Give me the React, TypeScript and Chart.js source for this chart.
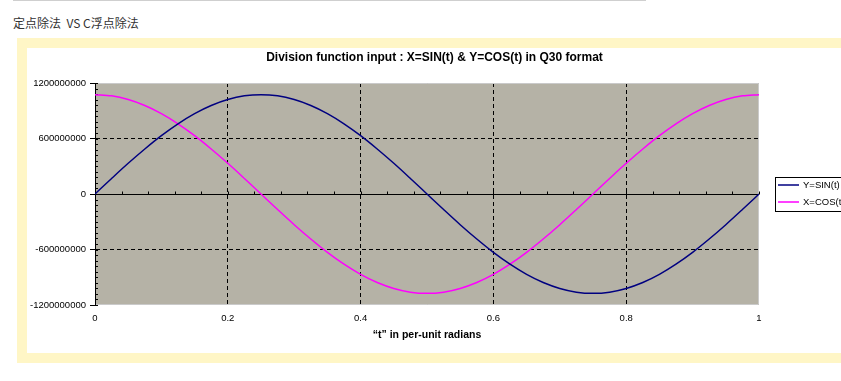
import React, { useEffect, useRef } from "react";
import { Chart, registerables } from "chart.js";

Chart.register(...registerables);

// ---------- data ----------
const pageCaption = "定点除法  VS C浮点除法";
const chartTitle = "Division function input : X=SIN(t) & Y=COS(t) in Q30 format";
const xAxisTitle = "\u201ct\u201d in per-unit radians";
const seriesLabels = ["Y=SIN(t)", "X=COS(t)"];

const tValues = [
  0, 0.025, 0.05, 0.075, 0.1, 0.125, 0.15, 0.175, 0.2, 0.225, 0.25, 0.275, 0.3, 0.325,
  0.35, 0.375, 0.4, 0.425, 0.45, 0.475, 0.5, 0.525, 0.55, 0.575, 0.6, 0.625, 0.65, 0.675,
  0.7, 0.725, 0.75, 0.775, 0.8, 0.825, 0.85, 0.875, 0.9, 0.925, 0.95, 0.975, 1,
];

const sinValues = [
  0, 168000000, 332000000, 487000000, 631000000, 759000000, 869000000, 957000000,
  1021000000, 1061000000, 1074000000, 1061000000, 1021000000, 957000000, 869000000,
  759000000, 631000000, 487000000, 332000000, 168000000, 0, -168000000, -332000000,
  -487000000, -631000000, -759000000, -869000000, -957000000, -1021000000, -1061000000,
  -1074000000, -1061000000, -1021000000, -957000000, -869000000, -759000000, -631000000,
  -487000000, -332000000, -168000000, 0,
];

const cosValues = [
  1074000000, 1061000000, 1021000000, 957000000, 869000000, 759000000, 631000000,
  487000000, 332000000, 168000000, 0, -168000000, -332000000, -487000000, -631000000,
  -759000000, -869000000, -957000000, -1021000000, -1061000000, -1074000000, -1061000000,
  -1021000000, -957000000, -869000000, -759000000, -631000000, -487000000, -332000000,
  -168000000, 0, 168000000, 332000000, 487000000, 631000000, 759000000, 869000000,
  957000000, 1021000000, 1061000000, 1074000000,
];

const xTicks = [0, 0.2, 0.4, 0.6, 0.8, 1];
const yTicks = [-1200000000, -600000000, 0, 600000000, 1200000000];
const xMinorStep = 0.04;
const yMinorStep = 60000000;

// ---------- styles ----------
const FONT = "'Liberation Sans', Arial, sans-serif";
const PLOT_BG = "#b5b2a6";
const SIN_COLOR = "#000080";
const COS_COLOR = "#ff00ff";
const CANVAS_W = 815;
const CANVAS_H = 305;

const decorPlugin = {
  id: "decor",
  beforeDraw(chart: any) {
    const { ctx, chartArea: a } = chart;
    ctx.save();
    ctx.fillStyle = PLOT_BG;
    ctx.fillRect(a.left, a.top, a.right - a.left, a.bottom - a.top);
    // title
    ctx.fillStyle = "#000";
    ctx.font = `bold 12px ${FONT}`;
    ctx.textAlign = "center";
    ctx.textBaseline = "middle";
    ctx.fillText(chartTitle, chart.width / 2, 10);
    ctx.restore();
  },
  beforeDatasetsDraw(chart: any) {
    const { ctx, chartArea: a, scales } = chart;
    const xs = scales.x;
    const ys = scales.y;
    ctx.save();
    // light plot border (top, right, bottom)
    ctx.strokeStyle = "#cacaca";
    ctx.lineWidth = 1;
    ctx.beginPath();
    ctx.moveTo(a.left + 1, a.top + 0.5);
    ctx.lineTo(a.right - 0.5, a.top + 0.5);
    ctx.lineTo(a.right - 0.5, a.bottom - 0.5);
    ctx.lineTo(a.left + 1, a.bottom - 0.5);
    ctx.stroke();
    // zero axis line
    const y0 = Math.round(ys.getPixelForValue(0)) + 0.5;
    ctx.strokeStyle = "#000";
    ctx.beginPath();
    ctx.moveTo(a.left, y0);
    ctx.lineTo(a.right, y0);
    // x minor ticks on zero line
    const xmin = xTicks[0];
    const xmax = xTicks[xTicks.length - 1];
    for (let i = 0; xmin + i * xMinorStep <= xmax + 1e-9; i++) {
      const px = Math.round(xs.getPixelForValue(xmin + i * xMinorStep)) + 0.5;
      ctx.moveTo(px, y0);
      ctx.lineTo(px, y0 - 3);
    }
    // y minor ticks inside left axis
    const ymin = yTicks[0];
    const ymax = yTicks[yTicks.length - 1];
    for (let i = 0; ymin + i * yMinorStep <= ymax + 1; i++) {
      const py = Math.round(ys.getPixelForValue(ymin + i * yMinorStep)) + 0.5;
      ctx.moveTo(a.left, py);
      ctx.lineTo(a.left + 3, py);
    }
    ctx.stroke();
    ctx.restore();
  },
  afterDraw(chart: any) {
    const { ctx } = chart;
    const bx = 748.5;
    const by = 129.5;
    const bw = 90;
    const bh = 34;
    ctx.save();
    ctx.fillStyle = "#fff";
    ctx.fillRect(bx, by, bw, bh);
    ctx.strokeStyle = "#000";
    ctx.lineWidth = 1;
    ctx.strokeRect(bx, by, bw, bh);
    const rows = [137, 154];
    chart.data.datasets.forEach((ds: any, i: number) => {
      const ry = rows[i];
      ctx.strokeStyle = ds.borderColor;
      ctx.lineWidth = 1.5;
      ctx.beginPath();
      ctx.moveTo(751, ry);
      ctx.lineTo(772, ry);
      ctx.stroke();
      ctx.fillStyle = "#000";
      ctx.font = `9.5px ${FONT}`;
      ctx.textAlign = "left";
      ctx.textBaseline = "middle";
      ctx.fillText(ds.label, 776, ry);
    });
    ctx.restore();
  },
};

export default function App() {
  const ref = useRef<HTMLCanvasElement>(null);

  useEffect(() => {
    if (!ref.current) return;
    const chart = new Chart(ref.current, {
      type: "line",
      data: {
        datasets: [
          {
            label: seriesLabels[0],
            data: tValues.map((t, i) => ({ x: t, y: sinValues[i] })),
            borderColor: SIN_COLOR,
            backgroundColor: SIN_COLOR,
            borderWidth: 1.5,
            pointRadius: 0,
            cubicInterpolationMode: "monotone",
          },
          {
            label: seriesLabels[1],
            data: tValues.map((t, i) => ({ x: t, y: cosValues[i] })),
            borderColor: COS_COLOR,
            backgroundColor: COS_COLOR,
            borderWidth: 1.5,
            pointRadius: 0,
            cubicInterpolationMode: "monotone",
          },
        ],
      },
      options: {
        responsive: false,
        animation: false,
        devicePixelRatio: 1,
        layout: { padding: { top: 35, right: 83, bottom: 0, left: 0 } },
        plugins: {
          legend: { display: false },
          title: { display: false },
          tooltip: { enabled: false },
        },
        scales: {
          x: {
            type: "linear",
            min: xTicks[0],
            max: xTicks[xTicks.length - 1],
            afterBuildTicks: (s: any) => {
              s.ticks = xTicks.map((v) => ({ value: v }));
            },
            afterFit: (s: any) => {
              s.height = 48;
            },
            ticks: {
              color: "#000",
              font: { family: FONT, size: 9.5 },
              padding: 8,
              maxRotation: 0,
              autoSkip: false,
              callback: (v: any) => String(v),
            },
            grid: {
              drawTicks: false,
              lineWidth: 1,
              color: (c: any) =>
                c.tick && c.tick.value > xTicks[0] && c.tick.value < xTicks[xTicks.length - 1]
                  ? "#000"
                  : "transparent",
            },
            border: { display: false, dash: [4, 3] },
            title: {
              display: true,
              text: xAxisTitle,
              color: "#000",
              font: { family: FONT, size: 10.5, weight: "bold" },
              padding: { top: 4, bottom: 12 },
            },
          },
          y: {
            type: "linear",
            min: yTicks[0],
            max: yTicks[yTicks.length - 1],
            afterBuildTicks: (s: any) => {
              s.ticks = yTicks.map((v) => ({ value: v }));
            },
            afterFit: (s: any) => {
              s.width = 68;
            },
            ticks: {
              color: "#000",
              font: { family: FONT, size: 9.5 },
              padding: 4,
              autoSkip: false,
              callback: (v: any) => String(v),
            },
            grid: {
              drawTicks: true,
              tickLength: 5,
              tickColor: "#000",
              tickWidth: 1,
              lineWidth: 1,
              color: (c: any) =>
                c.tick && Math.abs(c.tick.value) === yTicks[yTicks.length - 2]
                  ? "#000"
                  : "transparent",
            },
            border: { display: true, color: "#000", width: 1, dash: [4, 3] },
          },
        },
      },
      plugins: [decorPlugin],
    } as any);
    return () => chart.destroy();
  }, []);

  return (
    <div
      style={{
        position: "absolute",
        left: 0,
        top: 0,
        width: 841,
        height: 381,
        overflow: "hidden",
        background: "#fff",
      }}
    >
      <div
        style={{
          position: "absolute",
          left: 13,
          top: 0,
          width: 633,
          height: 1,
          background: "#cfcfcf",
        }}
      />
      <div
        style={{
          position: "absolute",
          left: 13,
          top: 15,
          fontFamily: "'Noto Sans CJK SC', sans-serif",
          fontSize: 12,
          lineHeight: "15px",
          color: "#333",
          whiteSpace: "pre",
        }}
      >
        {pageCaption}
      </div>
      <div
        style={{
          position: "absolute",
          left: 17,
          top: 38,
          width: 900,
          height: 325,
          background: "#fff6c6",
        }}
      />
      <div
        style={{
          position: "absolute",
          left: 27,
          top: 48,
          width: CANVAS_W,
          height: CANVAS_H,
          background: "#fff",
        }}
      >
        <canvas
          ref={ref}
          width={CANVAS_W}
          height={CANVAS_H}
          style={{ display: "block", width: CANVAS_W, height: CANVAS_H }}
        />
      </div>
    </div>
  );
}
